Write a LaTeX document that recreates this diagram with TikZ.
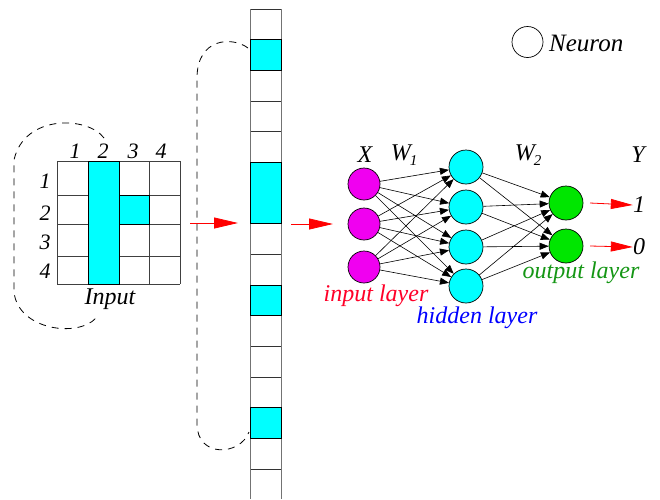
\documentclass[tikz,border=0pt]{standalone}
\usepackage{fontspec}
\setmainfont{Liberation Serif}
\usetikzlibrary{arrows.meta}
\definecolor{inred}{RGB}{255,0,40}
\definecolor{outgreen}{RGB}{20,150,20}
\definecolor{nodegreen}{RGB}{0,230,0}
\definecolor{cy}{RGB}{0,255,255}
\definecolor{mg}{RGB}{240,0,240}
\begin{document}
\begin{tikzpicture}[x=1pt,y=-1pt,
  lbl/.style={font=\itshape\fontsize{24}{26}\selectfont, inner sep=0},
  num/.style={font=\itshape\fontsize{22}{24}\selectfont, inner sep=0},
  neuron/.style={circle, draw=black, line width=0.7pt, inner sep=0, minimum size=33pt},
  innode/.style={neuron, fill=mg, minimum size=32pt},
  hidnode/.style={neuron, fill=cy, minimum size=34pt},
  outnode/.style={neuron, fill=nodegreen, minimum size=34pt},
  gridline/.style={draw=black!75, line width=0.8pt},
  cell/.style={draw=black, fill=cy, line width=1pt},
  loopdash/.style={draw=black, line width=0.8pt, dash pattern=on 7pt off 6pt},
  redarrow/.style={draw=red, line width=0.8pt, -{Triangle[length=24pt,width=11pt]}},
  edge/.style={draw=black, line width=0.6pt, -{Triangle[length=9pt,width=7pt]}}
]
\useasboundingbox (0,0) rectangle (660,499);

% ---- input grid ----
\foreach \y in {161,195,224,256,284} \draw[gridline] (57,\y) -- (180,\y);
\foreach \x in {57,88,119,149,180} \draw[gridline] (\x,161) -- (\x,284);
\draw[cell] (88,161) rectangle (119,284);
\draw[cell] (119,195) rectangle (149,224);
\node[num] (c1) at (75,151) {1};
\node[num] (c2) at (103,151) {2};
\node[num] (c3) at (133,151) {3};
\node[num] (c4) at (161,151) {4};
\node[num] (r1) at (45,181) {1};
\node[num] (r2) at (45,213) {2};
\node[num] (r3) at (45,242) {3};
\node[num] (r4) at (45,271) {4};
\node[lbl] (inputlbl) at (110,299) {Input};
\draw[loopdash] (104,138) .. controls (88,116) and (24,114) .. (14,160) -- (14,292) .. controls (18,330) and (78,338) .. (96,318);

% ---- flattened strip ----
\foreach \k in {0,...,15} \draw[black!80, line width=0.8pt] (250,{9+30.67*\k}) -- (281,{9+30.67*\k});
\draw[black!55, line width=1pt] (250,9) -- (250,499) (281,9) -- (281,499);
\draw[cell] (250,{9+30.67}) rectangle (281,{9+30.67*2});
\draw[cell] (250,{9+30.67*5}) rectangle (281,{9+30.67*7});
\draw[cell] (250,{9+30.67*9}) rectangle (281,{9+30.67*10});
\draw[cell] (250,{9+30.67*13}) rectangle (281,{9+30.67*14});
\draw[loopdash] (248,48) .. controls (232,36) and (197,38) .. (197,78) -- (197,424) .. controls (197,458) and (240,456) .. (249,432);

% ---- red arrows ----
\coordinate (a1s) at (190,223);
\coordinate (a1e) at (238,223);
\coordinate (a2s) at (291,224);
\coordinate (a2e) at (333,224);
\draw[redarrow] (a1s) -- (a1e);
\draw[redarrow] (a2s) -- (a2e);

% ---- network ----
\node[innode] (i1) at (364,184) {};
\node[innode] (i2) at (364,224) {};
\node[innode] (i3) at (364,267) {};
\node[hidnode] (h1) at (466,167) {};
\node[hidnode] (h2) at (466,207) {};
\node[hidnode] (h3) at (466,247) {};
\node[hidnode] (h4) at (466,286) {};
\node[outnode] (o1) at (566,203) {};
\node[outnode] (o2) at (566,246) {};
\foreach \i in {1,2,3} \foreach \h in {1,2,3,4} \draw[edge] (i\i) -- (h\h);
\foreach \h in {1,2,3,4} \foreach \o in {1,2} \draw[edge] (h\h) -- (o\o);
\node[lbl] (y1) at (639,205) {1};
\node[lbl] (y0) at (639,247) {0};
\coordinate (o1s) at (590,203);
\coordinate (o2s) at (590,246);
\draw[redarrow, -{Triangle[length=22pt,width=10pt]}] (o1s) -- (y1.west);
\draw[redarrow, -{Triangle[length=22pt,width=10pt]}] (o2s) -- (y0.west);

\node[lbl] (X) at (365,155) {X};
\node[lbl] (W1) at (404,155) {W\kern-1pt\raisebox{-5pt}{\fontsize{15}{15}\selectfont 1}};
\node[lbl] (W2) at (528,155) {W\kern-1pt\raisebox{-5pt}{\fontsize{15}{15}\selectfont 2}};
\node[lbl] (Y) at (638,155) {Y};
\node[lbl, text=inred] (inlayer) at (376,296) {input layer};
\node[lbl, text=blue] (hidlayer) at (477,318) {hidden layer};
\node[lbl, text=outgreen] (outlayer) at (581,273) {output layer};

% ---- legend ----
\node[neuron, minimum size=31pt] (legend) at (527.5,42) {};
\node[lbl, anchor=west, font=\itshape\fontsize{25}{27}\selectfont] (legendlbl) at (549,43) {Neuron};
\end{tikzpicture}
\end{document}
